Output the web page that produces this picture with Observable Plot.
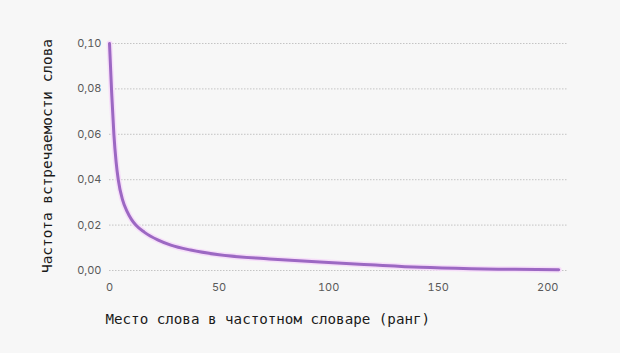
<!DOCTYPE html>
<html>
<head>
<meta charset="utf-8">
<script src="https://cdn.jsdelivr.net/npm/d3@7"></script>
<script src="https://cdn.jsdelivr.net/npm/@observablehq/plot@0.6"></script>
<style>
  html, body { margin: 0; padding: 0; background: #f7f7f7; }
  #chart svg { display: block; }
</style>
</head>
<body>
<div id="chart"></div>
<script>
// Rank of a word in the frequency dictionary and its frequency
const ranks = [0, 1, 2, 3, 4, 6, 8, 10, 12, 16, 22, 28, 37, 50, 73, 96, 119, 142, 165, 185, 205];
const freqs = [0.100, 0.078, 0.060, 0.048, 0.040, 0.031, 0.026, 0.0225, 0.020, 0.0168, 0.0135, 0.0112, 0.0090, 0.0069, 0.0051, 0.0037, 0.0025, 0.0014, 0.0008, 0.0005, 0.0003];

const xTicks = [0, 50, 100, 150, 200];
const yTicks = [0, 0.02, 0.04, 0.06, 0.08, 0.10];
const xLabel = "Место слова в частотном словаре (ранг)";
const yLabel = "Частота встречаемости слова";

const data = ranks.map((r, i) => ({rank: r, freq: freqs[i]}));
const fmtY = d => d.toFixed(2).replace(".", ",");
const monoFont = "'DejaVu Sans Mono', 'Liberation Mono', monospace";

const chart = Plot.plot({
  width: 620,
  height: 353,
  marginLeft: 109,
  marginRight: 53,
  marginTop: 43,
  marginBottom: 83,
  style: {background: "#f7f7f7", fontFamily: "Inter, 'Noto Sans', sans-serif", fontSize: "11px", color: "#5a5a5a"},
  x: {domain: [0, 209]},
  y: {domain: [0, 0.1]},
  marks: [
    Plot.gridY(yTicks, {stroke: "#c4c4c4", strokeOpacity: 1, strokeDasharray: "1.5,1.5", strokeWidth: 1}),
    Plot.axisY({ticks: yTicks, tickSize: 0, tickPadding: 8, tickFormat: fmtY, label: null}),
    Plot.axisX({ticks: xTicks, tickSize: 0, tickPadding: 13, label: null}),
    Plot.line(data, {x: "rank", y: "freq", curve: "monotone-x", stroke: "#f6def9", strokeWidth: 6}),
    Plot.line(data, {x: "rank", y: "freq", curve: "monotone-x", stroke: "#9c68c3", strokeWidth: 3}),
    Plot.text([xLabel], {text: d => d, frameAnchor: "bottom-left", textAnchor: "start", lineAnchor: "middle", dx: -4, dy: 49, fontFamily: monoFont, fontSize: 14.2, fill: "#1a1a1a"}),
    Plot.text([yLabel], {text: d => d, frameAnchor: "left", textAnchor: "middle", lineAnchor: "middle", rotate: -90, dx: -62, dy: -1, fontFamily: monoFont, fontSize: 14.4, fill: "#1a1a1a"})
  ]
});
document.getElementById("chart").appendChild(chart);
</script>
</body>
</html>
